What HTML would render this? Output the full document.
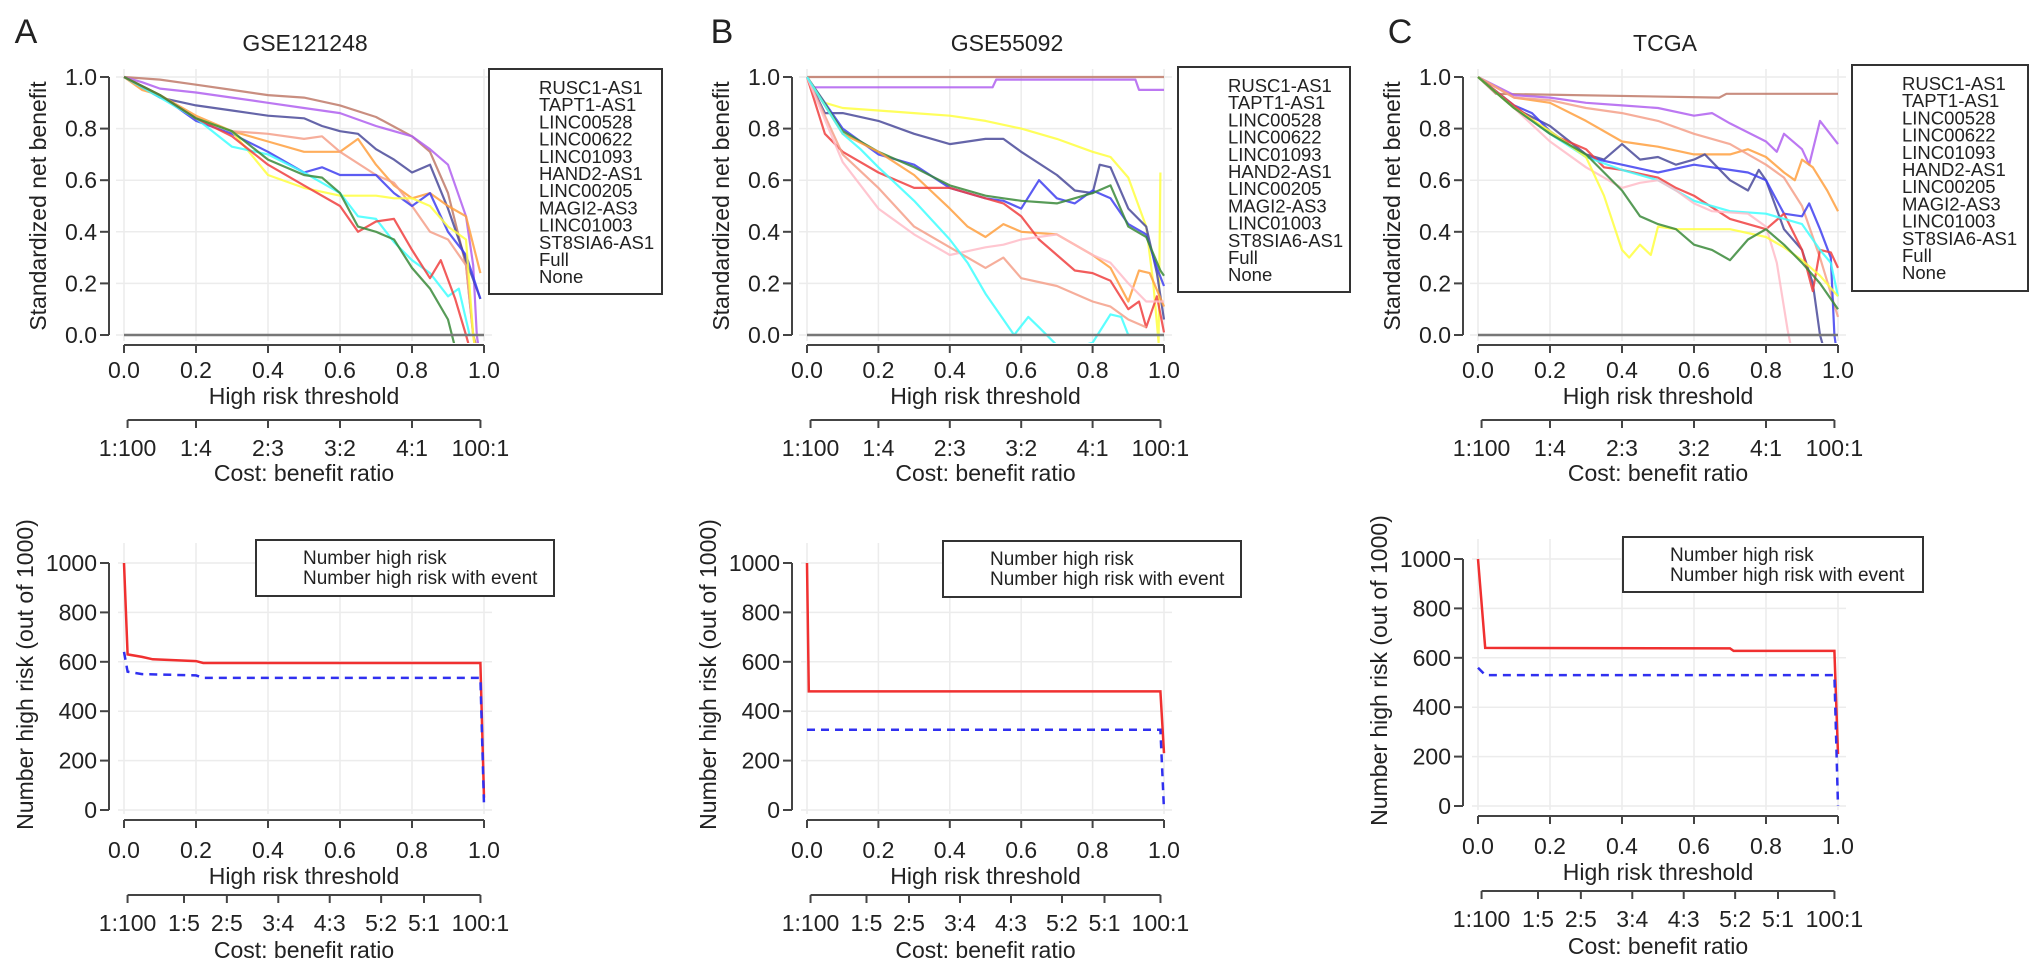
<!DOCTYPE html>
<html><head><meta charset="utf-8"><style>
html,body{margin:0;padding:0;background:#fff;}
svg{display:block;font-family:"Liberation Sans",Arial,sans-serif;}
</style></head><body>
<svg id="fig" width="2032" height="970" viewBox="0 0 2032 970" xmlns="http://www.w3.org/2000/svg"></svg>
<script>
// ---------- data: top panels (threshold, standardized net benefit) ----------
const A_brown=[[0,1],[.1,.99],[.2,.97],[.3,.95],[.4,.93],[.5,.92],[.6,.89],[.7,.845],[.8,.77],[.85,.71],[.9,.55],[.95,.27],[.97,0],[.98,-.05]];
const A_purple=[[0,1],[.05,.98],[.1,.955],[.2,.94],[.3,.92],[.4,.9],[.5,.88],[.6,.86],[.7,.81],[.8,.77],[.85,.72],[.9,.66],[.95,.46],[.97,.27],[.98,0],[.985,-.05]];
const A_slate=[[0,1],[.1,.92],[.2,.89],[.3,.87],[.4,.85],[.5,.84],[.55,.81],[.6,.79],[.65,.78],[.7,.72],[.75,.68],[.8,.63],[.85,.66],[.9,.49],[.95,.29],[.99,.14]];
const A_orange=[[0,1],[.05,.95],[.1,.93],[.2,.85],[.3,.79],[.4,.75],[.5,.71],[.6,.71],[.65,.76],[.7,.66],[.75,.58],[.8,.53],[.85,.55],[.9,.5],[.95,.46],[.99,.24]];
const A_salmon=[[0,1],[.1,.93],[.2,.84],[.3,.79],[.4,.78],[.5,.76],[.55,.77],[.6,.71],[.7,.62],[.75,.59],[.8,.5],[.85,.4],[.9,.37],[.95,.27],[.97,0],[.975,-.05]];
const A_blue=[[0,1],[.1,.93],[.2,.83],[.3,.78],[.4,.71],[.5,.63],[.55,.65],[.6,.62],[.7,.62],[.75,.55],[.8,.5],[.85,.55],[.9,.4],[.95,.31],[.99,.14]];
const A_yellow=[[0,1],[.1,.93],[.2,.84],[.3,.79],[.4,.62],[.5,.57],[.6,.54],[.7,.54],[.75,.53],[.8,.53],[.85,.5],[.9,.42],[.95,.37],[.97,0],[.975,-.05]];
const A_cyan=[[0,1],[.1,.92],[.2,.84],[.3,.73],[.4,.7],[.5,.63],[.55,.59],[.6,.55],[.65,.46],[.7,.45],[.75,.36],[.8,.29],[.85,.24],[.9,.15],[.93,.18],[.96,0]];
const A_red=[[0,1],[.1,.93],[.2,.84],[.3,.77],[.4,.66],[.5,.58],[.6,.5],[.65,.4],[.7,.44],[.75,.45],[.8,.33],[.85,.22],[.88,.29],[.92,.14],[.95,0],[.96,-.05]];
const A_green=[[0,1],[.1,.93],[.2,.84],[.3,.79],[.4,.68],[.5,.62],[.55,.61],[.6,.55],[.65,.42],[.7,.4],[.75,.37],[.8,.26],[.85,.18],[.9,.06],[.92,-.05]];
const A_none=[[0,0],[1,0]];

const B_brown=[[0,1],[1,1]];
const B_purple=[[0,1],[.02,.96],[.52,.96],[.53,.99],[.92,.99],[.93,.95],[1,.95]];
const B_yellow=[[0,1],[.05,.9],[.1,.88],[.2,.87],[.3,.86],[.4,.85],[.5,.83],[.6,.8],[.7,.76],[.8,.71],[.85,.69],[.9,.61],[.95,.42],[.97,.2],[.985,-.03],[.99,.63]];
const B_slate=[[0,1],[.05,.86],[.1,.86],[.2,.83],[.3,.78],[.4,.74],[.5,.76],[.55,.76],[.6,.71],[.7,.62],[.75,.56],[.8,.55],[.82,.66],[.85,.65],[.9,.49],[.95,.42],[.98,.24],[1,.06]];
const B_blue=[[0,1],[.1,.8],[.2,.7],[.3,.66],[.4,.57],[.5,.53],[.55,.52],[.6,.49],[.65,.6],[.7,.53],[.75,.51],[.8,.56],[.85,.53],[.9,.43],[.95,.39],[.98,.26],[1,.19]];
const B_green=[[0,1],[.1,.79],[.2,.71],[.3,.65],[.4,.58],[.5,.54],[.55,.53],[.6,.52],[.7,.51],[.8,.55],[.85,.58],[.9,.42],[.95,.38],[.99,.25],[1,.23]];
const B_orange=[[0,1],[.1,.78],[.2,.71],[.3,.62],[.4,.49],[.45,.42],[.5,.38],[.55,.43],[.6,.4],[.7,.39],[.8,.31],[.85,.26],[.9,.13],[.93,.25],[.96,.24],[1,.11]];
const B_red=[[0,1],[.05,.78],[.1,.71],[.2,.63],[.3,.57],[.4,.57],[.5,.53],[.55,.51],[.6,.46],[.65,.37],[.7,.31],[.75,.25],[.8,.24],[.85,.21],[.9,.1],[.93,.13],[.95,.03],[.98,.15],[1,.01]];
const B_salmon=[[0,1],[.1,.7],[.2,.57],[.3,.42],[.4,.34],[.5,.26],[.55,.3],[.6,.22],[.7,.19],[.8,.13],[.85,.11],[.9,.06],[.95,.03]];
const B_pink=[[0,1],[.1,.67],[.2,.49],[.3,.39],[.4,.31],[.5,.34],[.55,.35],[.6,.37],[.7,.39],[.8,.31],[.85,.28],[.9,.2],[.95,.13],[1,.13]];
const B_cyan=[[0,1],[.1,.78],[.15,.72],[.2,.65],[.3,.52],[.4,.37],[.45,.28],[.5,.16],[.55,.06],[.58,0],[.62,.07],[.65,.03],[.7,-.04],[.75,-.05],[.8,-.03],[.85,.08],[.88,.07],[.9,0],[1,0]];
const B_none=[[0,0],[1,0]];

const C_brown=[[0,1],[.05,.935],[.67,.92],[.69,.935],[1,.935]];
const C_purple=[[0,1],[.1,.93],[.2,.92],[.3,.9],[.4,.89],[.5,.88],[.6,.85],[.65,.86],[.7,.82],[.8,.75],[.83,.71],[.85,.78],[.9,.72],[.92,.66],[.95,.83],[1,.74]];
const C_orange=[[0,1],[.1,.92],[.2,.9],[.3,.83],[.4,.75],[.5,.73],[.6,.7],[.7,.7],[.75,.72],[.8,.69],[.85,.63],[.88,.6],[.9,.68],[.93,.65],[.97,.56],[1,.48]];
const C_salmon=[[0,1],[.1,.92],[.2,.91],[.3,.88],[.4,.86],[.5,.83],[.6,.78],[.7,.74],[.8,.66],[.85,.61],[.9,.5],[.95,.3],[1,.07]];
const C_slate=[[0,1],[.1,.88],[.2,.81],[.3,.7],[.35,.68],[.4,.74],[.45,.68],[.5,.69],[.55,.66],[.6,.68],[.63,.7],[.7,.6],[.75,.56],[.78,.64],[.8,.6],[.85,.41],[.9,.33],[.93,.2],[.95,0],[.96,-.05]];
const C_blue=[[0,1],[.1,.89],[.15,.86],[.2,.79],[.3,.69],[.4,.66],[.5,.63],[.6,.66],[.65,.65],[.7,.64],[.75,.63],[.8,.6],[.85,.47],[.9,.46],[.92,.51],[.95,.41],[.98,.3],[.99,0],[.995,-.05]];
const C_red=[[0,1],[.1,.89],[.2,.78],[.3,.72],[.35,.65],[.4,.64],[.5,.61],[.55,.57],[.6,.54],[.7,.45],[.75,.43],[.8,.41],[.85,.47],[.9,.33],[.93,.17],[.95,.33],[.98,.32],[1,.26]];
const C_cyan=[[0,1],[.1,.88],[.2,.78],[.3,.69],[.4,.64],[.5,.6],[.6,.52],[.7,.48],[.8,.47],[.9,.43],[.95,.33],[.98,.28],[1,.15]];
const C_pink=[[0,1],[.1,.88],[.2,.75],[.3,.65],[.4,.57],[.45,.59],[.5,.6],[.55,.56],[.6,.51],[.65,.48],[.75,.47],[.8,.42],[.83,.28],[.86,.02],[.87,-.05]];
const C_yellow=[[0,1],[.1,.88],[.2,.79],[.3,.69],[.35,.54],[.4,.33],[.42,.3],[.45,.35],[.48,.31],[.5,.42],[.55,.41],[.7,.41],[.8,.38],[.85,.34],[.9,.29],[.95,.23],[1,.15]];
const C_green=[[0,1],[.1,.88],[.2,.78],[.3,.7],[.4,.56],[.45,.46],[.5,.43],[.55,.41],[.6,.35],[.65,.33],[.7,.29],[.75,.37],[.8,.41],[.85,.35],[.9,.28],[.95,.2],[1,.1]];
const C_none=[[0,0],[1,0]];

// ---------- data: bottom panels (threshold, number high risk) ----------
const A_highRisk=[[0,1000],[.01,630],[.05,620],[.08,610],[.2,603],[.22,595],[.99,595],[1,50]];
const A_highRiskEvent=[[0,640],[.01,560],[.05,550],[.2,545],[.22,535],[.99,535],[1,20]];
const B_highRisk=[[0,1000],[.005,480],[.99,480],[1,230]];
const B_highRiskEvent=[[0,325],[.99,325],[1,0]];
const C_highRisk=[[0,1000],[.02,640],[.7,638],[.71,628],[.99,628],[1,210]];
const C_highRiskEvent=[[0,560],[.02,530],[.99,530],[1,0]];

// ---------- ticks / labels ----------
const xTicks=[0,.2,.4,.6,.8,1];
const xTickLabels=["0.0","0.2","0.4","0.6","0.8","1.0"];
const nbTicks=[0,.2,.4,.6,.8,1];
const nbTickLabels=["0.0","0.2","0.4","0.6","0.8","1.0"];
const nhTicks=[0,200,400,600,800,1000];
const nhTickLabels=["0","200","400","600","800","1000"];
const cbTopLabels=["1:100","1:4","2:3","3:2","4:1","100:1"];
const cbTopPos=[1/101,.2,.4,.6,.8,100/101];
const cbBotLabels=["1:100","1:5","2:5","3:4","4:3","5:2","5:1","100:1"];
const cbBotPos=[1/101,1/6,2/7,3/7,4/7,5/7,5/6,100/101];
const legendLabels=["RUSC1-AS1","TAPT1-AS1","LINC00528","LINC00622","LINC01093","HAND2-AS1","LINC00205","MAGI2-AS3","LINC01003","ST8SIA6-AS1","Full","None"];
const legend2Labels=["Number high risk","Number high risk with event"];

const COL={brown:"#c07a6a",purple:"#b060f0",slate:"#4a4a9a",orange:"#ffa040",salmon:"#f5a08a",blue:"#4040f0",yellow:"#ffff40",cyan:"#40ffff",red:"#f04040",green:"#3a8a3a",pink:"#ffbcc8",none:"#777"};
const FS=23;

const svg=document.getElementById('fig');
const NS="http://www.w3.org/2000/svg";
function mk(tag,attrs,parent){const e=document.createElementNS(NS,tag);for(const k in attrs)e.setAttribute(k,attrs[k]);(parent||svg).appendChild(e);return e;}
function txt(s,x,y,size,anchor,parent){const t=mk('text',{x:x,y:y,'font-size':size,'text-anchor':anchor||'middle',fill:'#222'},parent);t.textContent=s;return t;}

const panels=[
 {id:'a',letter:'A',title:'GSE121248',lx:26,x0:124,x1:484,ttl:305,box:[489,69,173,225],box2:[256,540,298,56],boff:0,
  series:[['brown',A_brown],['purple',A_purple],['slate',A_slate],['orange',A_orange],['salmon',A_salmon],['blue',A_blue],['yellow',A_yellow],['cyan',A_cyan],['red',A_red],['green',A_green],['none',A_none]],
  hr:A_highRisk,hre:A_highRiskEvent},
 {id:'b',letter:'B',title:'GSE55092',lx:722,x0:807,x1:1164,ttl:1007,box:[1178,67,172,225],box2:[943,541,298,56],boff:0,
  series:[['brown',B_brown],['purple',B_purple],['yellow',B_yellow],['slate',B_slate],['blue',B_blue],['green',B_green],['orange',B_orange],['red',B_red],['salmon',B_salmon],['pink',B_pink],['cyan',B_cyan],['none',B_none]],
  hr:B_highRisk,hre:B_highRiskEvent},
 {id:'c',letter:'C',title:'TCGA',lx:1400,x0:1478,x1:1838,ttl:1665,box:[1852,65,176,226],box2:[1623,537,300,55],boff:-4,
  series:[['brown',C_brown],['purple',C_purple],['orange',C_orange],['salmon',C_salmon],['slate',C_slate],['blue',C_blue],['red',C_red],['cyan',C_cyan],['pink',C_pink],['yellow',C_yellow],['green',C_green],['none',C_none]],
  hr:C_highRisk,hre:C_highRiskEvent}
];

const TY0=335,TY1=77;
panels.forEach(p=>{
  const g=mk('g',{});
  
  
  const sx=v=>p.x0+v*(p.x1-p.x0);
  const L=txt(p.letter,p.lx,43,34,'middle',g);
  
  
  const T=txt(p.title,p.ttl,51,FS,'middle',g);
  
  

  // ===== top chart =====
  const sy=v=>TY0-v*(TY0-TY1);
  const top=mk('g',{},g);
  
  
  xTicks.forEach(t=>{const l=mk('line',{x1:sx(t),x2:sx(t),y1:TY1-8,y2:TY0+6,stroke:'#ececec','stroke-width':1.5},top);});
  nbTicks.forEach(t=>{const l=mk('line',{x1:p.x0-8,x2:p.x1+8,y1:sy(t),y2:sy(t),stroke:'#ececec','stroke-width':1.5},top);});
  const cid='clip'+p.id;
  const cp=mk('clipPath',{id:cid},top);mk('rect',{x:p.x0-14,y:TY1-12,width:p.x1-p.x0+28,height:TY0-TY1+20},cp);
  const sg=mk('g',{'clip-path':'url(#'+cid+')'},top);
  p.series.forEach(([c,d])=>{
    const pts=d.map(q=>sx(q[0]).toFixed(1)+','+sy(q[1]).toFixed(1)).join(' ');
    const pl=mk('polyline',{points:pts,fill:'none',stroke:COL[c],'stroke-width':c==='none'?2.5:2.2,'stroke-opacity':c==='none'?1:0.85,'stroke-linejoin':'round'},sg);
    
    
  });
  const ya=mk('g',{},top);
  
  
  mk('line',{x1:p.x0-15,x2:p.x0-15,y1:sy(0),y2:sy(1),stroke:'#444','stroke-width':2},ya);
  nbTicks.forEach((t,i)=>{mk('line',{x1:p.x0-24,x2:p.x0-15,y1:sy(t),y2:sy(t),stroke:'#444','stroke-width':2},ya);txt(nbTickLabels[i],p.x0-27,sy(t)+8,FS,'end',ya);});
  const yt=txt('Standardized net benefit',0,0,FS,'middle',ya);
  yt.setAttribute('transform','translate('+(p.x0-78)+','+((TY0+TY1)/2)+') rotate(-90)');
  
  
  const xa=mk('g',{},top);
  
  
  mk('line',{x1:sx(0),x2:sx(1),y1:TY0+10,y2:TY0+10,stroke:'#444','stroke-width':2},xa);
  xTicks.forEach((t,i)=>{mk('line',{x1:sx(t),x2:sx(t),y1:TY0+10,y2:TY0+18,stroke:'#444','stroke-width':2},xa);txt(xTickLabels[i],sx(t),TY0+43,FS,'middle',xa);});
  const xt=txt('High risk threshold',(p.x0+p.x1)/2,TY0+69,FS,'middle',xa);
  
  
  const ca=mk('g',{},top);
  
  
  mk('line',{x1:sx(cbTopPos[0]),x2:sx(cbTopPos[cbTopPos.length-1]),y1:TY0+85,y2:TY0+85,stroke:'#444','stroke-width':2},ca);
  cbTopPos.forEach((t,i)=>{mk('line',{x1:sx(t),x2:sx(t),y1:TY0+85,y2:TY0+93,stroke:'#444','stroke-width':2},ca);txt(cbTopLabels[i],sx(t),TY0+121,FS,'middle',ca);});
  const ct=txt('Cost: benefit ratio',(p.x0+p.x1)/2,TY0+146,FS,'middle',ca);
  
  
  const lg=mk('g',{},top);
  
  
  mk('rect',{x:p.box[0],y:p.box[1],width:p.box[2],height:p.box[3],fill:'#fff',stroke:'#333','stroke-width':2},lg);
  legendLabels.forEach((s,i)=>{const e=txt(s,p.box[0]+50,p.box[1]+25+i*17.2,18.5,'start',lg);});

  // ===== bottom chart =====
  const o=p.boff, BY0=810+o, BY1=563+o;
  const by=v=>BY0-v/1000*(BY0-BY1);
  const bot=mk('g',{},g);
  
  
  xTicks.forEach(t=>{const l=mk('line',{x1:sx(t),x2:sx(t),y1:BY1-20,y2:BY0+4,stroke:'#ececec','stroke-width':1.5},bot);});
  nhTicks.forEach(t=>{const l=mk('line',{x1:p.x0-6,x2:p.x1+8,y1:by(t),y2:by(t),stroke:'#ececec','stroke-width':1.5},bot);});
  const l1=mk('polyline',{points:p.hr.map(q=>sx(q[0]).toFixed(1)+','+by(q[1]).toFixed(1)).join(' '),fill:'none',stroke:'#f03030','stroke-width':2.5},bot);
  
  
  const l2=mk('polyline',{points:p.hre.map(q=>sx(q[0]).toFixed(1)+','+by(q[1]).toFixed(1)).join(' '),fill:'none',stroke:'#3030f0','stroke-width':2.5,'stroke-dasharray':'8,6'},bot);
  
  
  const ya2=mk('g',{},bot);
  
  
  mk('line',{x1:p.x0-15,x2:p.x0-15,y1:by(0),y2:by(1000),stroke:'#444','stroke-width':2},ya2);
  nhTicks.forEach((t,i)=>{mk('line',{x1:p.x0-24,x2:p.x0-15,y1:by(t),y2:by(t),stroke:'#444','stroke-width':2},ya2);txt(nhTickLabels[i],p.x0-27,by(t)+8,FS,'end',ya2);});
  const yt2=txt('Number high risk (out of 1000)',0,0,FS,'middle',ya2);
  yt2.setAttribute('transform','translate('+(p.x0-91)+','+((BY0+BY1)/2-12)+') rotate(-90)');
  
  
  const xa2=mk('g',{},bot);
  
  
  mk('line',{x1:sx(0),x2:sx(1),y1:BY0+10,y2:BY0+10,stroke:'#444','stroke-width':2},xa2);
  xTicks.forEach((t,i)=>{mk('line',{x1:sx(t),x2:sx(t),y1:BY0+10,y2:BY0+18,stroke:'#444','stroke-width':2},xa2);txt(xTickLabels[i],sx(t),BY0+48,FS,'middle',xa2);});
  const xt2=txt('High risk threshold',(p.x0+p.x1)/2,BY0+74,FS,'middle',xa2);
  
  
  const ca2=mk('g',{},bot);
  
  
  mk('line',{x1:sx(cbBotPos[0]),x2:sx(cbBotPos[cbBotPos.length-1]),y1:BY0+85,y2:BY0+85,stroke:'#444','stroke-width':2},ca2);
  cbBotPos.forEach((t,i)=>{mk('line',{x1:sx(t),x2:sx(t),y1:BY0+85,y2:BY0+93,stroke:'#444','stroke-width':2},ca2);txt(cbBotLabels[i],sx(t),BY0+121,FS,'middle',ca2);});
  const ct2=txt('Cost: benefit ratio',(p.x0+p.x1)/2,BY0+148,FS,'middle',ca2);
  
  
  const lg2=mk('g',{},bot);
  
  
  mk('rect',{x:p.box2[0],y:p.box2[1],width:p.box2[2],height:p.box2[3],fill:'#fff',stroke:'#333','stroke-width':2},lg2);
  legend2Labels.forEach((s,i)=>{const e=txt(s,p.box2[0]+47,p.box2[1]+24+i*20,19,'start',lg2);});
});
</script>
</body></html>
